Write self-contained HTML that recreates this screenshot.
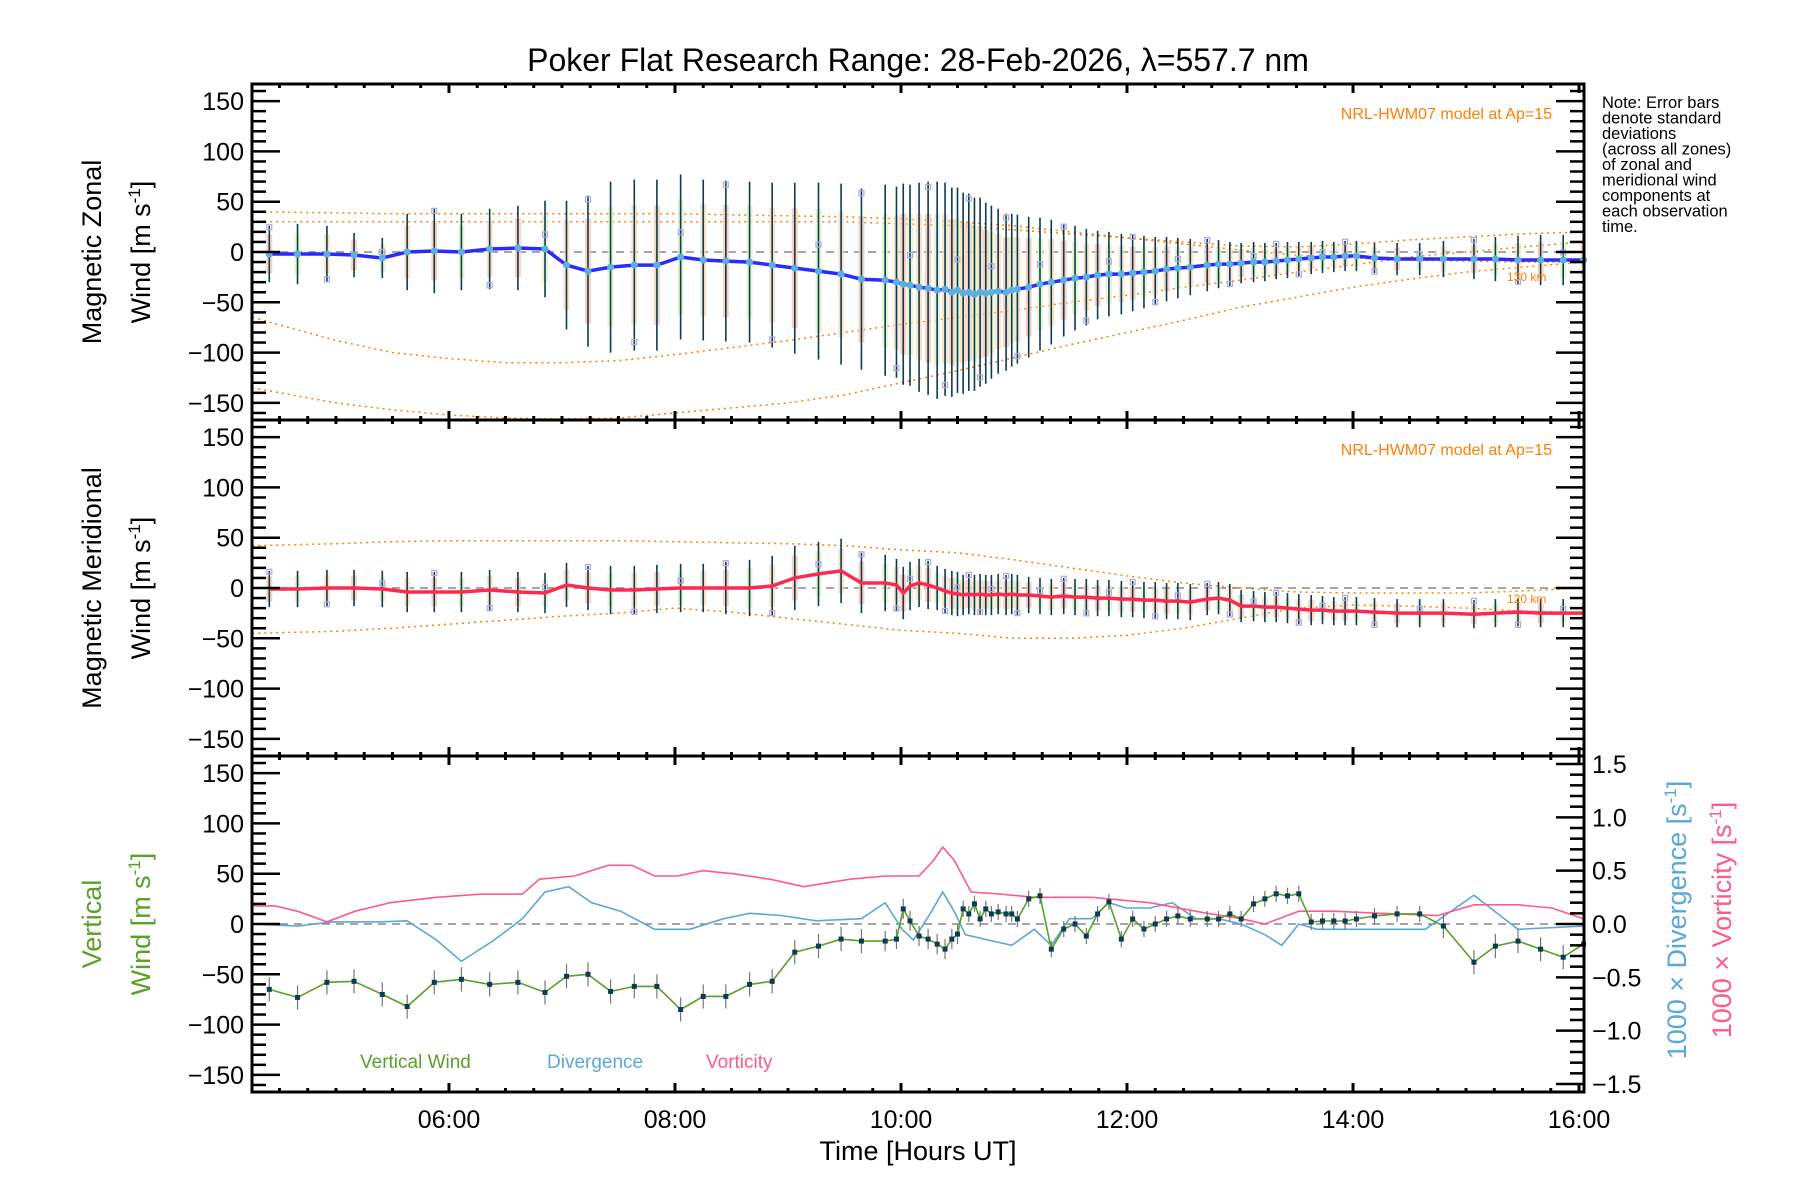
<!DOCTYPE html>
<html><head><meta charset="utf-8"><style>
html,body{margin:0;padding:0;background:#fff;}
svg{display:block;font-family:"Liberation Sans",sans-serif;}
</style></head><body>
<svg id="chart" width="1800" height="1200" viewBox="0 0 1800 1200">
<text x="918" y="71" font-size="32" text-anchor="middle">Poker Flat Research Range: 28-Feb-2026, λ=557.7 nm</text>
<g font-size="16.5">
<text x="1602" y="108">Note: Error bars</text><text x="1602" y="123.5">denote standard</text><text x="1602" y="139">deviations</text><text x="1602" y="154.5">(across all zones)</text><text x="1602" y="170">of zonal and</text><text x="1602" y="185.5">meridional wind</text><text x="1602" y="201">components at</text><text x="1602" y="216.5">each observation</text><text x="1602" y="232">time.</text>
</g>
<g id="layer"></g>
</svg>
<script>
const obsTimes=[4.41,4.66,4.92,5.16,5.41,5.63,5.87,6.11,6.36,6.61,6.85,7.04,7.23,7.43,7.64,7.84,8.05,8.25,8.45,8.66,8.86,9.06,9.27,9.47,9.65,9.86,9.96,10.02,10.08,10.16,10.24,10.32,10.39,10.45,10.50,10.55,10.60,10.65,10.70,10.75,10.80,10.86,10.93,10.98,11.03,11.13,11.23,11.33,11.44,11.54,11.64,11.74,11.84,11.95,12.05,12.15,12.25,12.35,12.45,12.56,12.71,12.81,12.91,13.01,13.12,13.22,13.32,13.42,13.52,13.63,13.73,13.83,13.93,14.03,14.19,14.39,14.59,14.80,15.07,15.26,15.46,15.66,15.86,16.04];
const zonal=[-2,-2,-2,-3,-6,0,1,0,3,4,3,-13,-19,-15,-13,-13,-5,-8,-9,-10,-13,-16,-19,-22,-27,-28,-30,-32,-33,-35,-36,-38,-37,-40,-38,-41,-40,-42,-40,-41,-40,-39,-40,-38,-37,-35,-32,-30,-28,-26,-25,-23,-22,-22,-21,-20,-19,-17,-16,-15,-13,-12,-12,-11,-10,-10,-9,-8,-7,-6,-5,-5,-4,-4,-6,-7,-7,-7,-7,-7,-8,-8,-8,-8];
const zonalSd=[28,30,28,22,20,38,42,38,40,42,48,64,75,85,85,85,82,80,80,80,82,85,88,90,90,95,95,100,100,104,106,108,106,104,102,100,98,96,94,90,86,82,78,76,74,70,66,62,56,52,48,44,42,40,38,36,34,32,30,28,26,24,22,20,20,19,18,18,17,16,16,15,15,15,15,16,16,18,20,22,24,25,25,25];
const merid=[-1,-1,0,0,-1,-4,-4,-4,-2,-4,-5,3,0,-2,-2,-1,0,0,0,0,2,10,14,17,5,5,3,-5,2,5,3,0,-3,-5,-6,-7,-6,-7,-6,-7,-7,-6,-7,-6,-7,-7,-8,-9,-8,-9,-9,-10,-10,-11,-11,-12,-12,-13,-13,-14,-11,-10,-12,-18,-18,-19,-19,-20,-21,-22,-22,-23,-23,-23,-24,-25,-25,-25,-26,-25,-24,-25,-25,-25];
const meridSd=[18,18,18,18,18,20,20,20,20,20,20,22,22,24,24,24,24,24,26,28,30,32,32,32,30,28,26,26,24,24,24,22,22,22,22,20,20,20,20,20,20,20,20,20,20,18,18,18,18,18,18,18,18,18,18,18,18,18,18,18,16,16,16,16,15,15,15,15,15,15,14,14,14,14,14,14,14,14,14,14,14,14,14,14];
const vTimes=obsTimes;
const vWind=[-65,-73,-58,-57,-70,-82,-58,-55,-60,-58,-68,-52,-50,-67,-62,-62,-85,-72,-72,-60,-57,-28,-22,-15,-17,-17,-15,15,3,-12,-15,-20,-25,-15,-10,15,10,20,5,15,10,12,10,10,5,25,28,-25,-5,0,-12,10,22,-15,5,-5,0,5,8,5,5,5,10,5,20,25,30,28,30,2,3,3,3,5,8,10,10,-2,-38,-22,-17,-25,-33,-20];
const vErr=[12,12,12,12,12,12,12,12,12,12,12,12,12,12,12,12,12,12,12,12,12,12,12,12,12,10,10,10,10,10,10,10,10,10,10,8,8,8,8,8,8,8,8,8,8,8,8,8,8,8,8,8,8,8,8,8,8,8,8,8,8,8,8,8,8,8,8,8,8,8,8,8,8,8,8,8,8,12,12,12,12,12,12,12];
const divTimes=[4.26,4.66,4.97,5.38,5.63,5.89,6.11,6.40,6.65,6.85,7.06,7.26,7.52,7.82,8.13,8.43,8.66,8.94,9.25,9.65,9.86,10.01,10.11,10.26,10.37,10.47,10.57,10.77,10.98,11.18,11.33,11.49,11.69,11.84,11.99,12.20,12.40,12.61,12.81,13.01,13.22,13.37,13.52,13.68,13.83,14.24,14.64,15.07,15.46,16.04];
const divergence=[0.0,-0.02,0.02,0.02,0.03,-0.15,-0.35,-0.15,0.05,0.3,0.35,0.2,0.12,-0.05,-0.05,0.05,0.1,0.08,0.03,0.05,0.2,-0.05,-0.15,0.1,0.3,0.12,-0.1,-0.15,-0.2,-0.05,-0.2,0.05,0.05,0.2,0.15,0.15,0.2,0.05,0.05,0.0,-0.1,-0.2,0.0,-0.05,-0.05,-0.05,-0.05,0.27,-0.05,-0.02];
const vortTimes=[4.26,4.46,4.66,4.92,5.17,5.48,5.89,6.29,6.65,6.80,7.11,7.41,7.62,7.82,8.02,8.25,8.53,8.84,9.14,9.55,9.86,10.16,10.29,10.37,10.47,10.62,10.88,11.18,11.69,12.20,12.71,13.01,13.22,13.52,13.83,14.24,14.75,15.07,15.46,15.76,16.04];
const vorticity=[0.17,0.17,0.12,0.02,0.12,0.2,0.25,0.28,0.28,0.42,0.45,0.55,0.55,0.45,0.45,0.5,0.47,0.42,0.35,0.42,0.45,0.45,0.6,0.72,0.6,0.3,0.28,0.25,0.25,0.2,0.1,0.05,0.0,0.12,0.12,0.1,0.08,0.18,0.18,0.15,0.05];
const modelTimes=[4.26,5.0,5.5,6.0,6.5,7.0,7.5,8.0,8.5,9.0,9.5,10.0,10.5,11.0,11.5,12.0,12.5,13.0,13.5,14.0,14.5,15.0,15.5,16.04];
const zModelA=[40,39,38,38,38,38,38,38,37,36,35,33,30,26,20,14,8,2,-3,-6,-8,-9,-10,-10];
const zModelB=[-65,-88,-100,-106,-110,-110,-108,-102,-95,-88,-80,-72,-65,-58,-50,-43,-35,-28,-20,-13,-5,0,5,10];
const zModelC=[-135,-150,-157,-162,-165,-166,-165,-160,-155,-150,-142,-130,-118,-105,-92,-80,-68,-55,-45,-35,-27,-20,-15,-10];
const zModelD=[30,30,30,30,30,30,30,30,30,30,30,28,26,22,18,14,10,6,5,8,12,15,18,20];
const mModelA=[42,44,46,47,47,47,47,46,45,44,42,38,35,28,20,12,5,0,-4,-5,-5,-5,-3,0];
const mModelB=[-45,-43,-40,-36,-32,-28,-25,-20,-24,-30,-36,-42,-45,-50,-50,-47,-40,-30,-20,-17,-18,-20,-23,-25];
const xTickLabels=["06:00","08:00","10:00","12:00","14:00","16:00"];
const xTickHours=[6,8,10,12,14,16];
const yTickVals=[-150,-100,-50,0,50,100,150];
const rTickVals=[-1.5,-1.0,-0.5,0.0,0.5,1.0,1.5];
const rTickLabels=["\u22121.5","\u22121.0","\u22120.5","0.0","0.5","1.0","1.5"];

const NS='http://www.w3.org/2000/svg';
const layer=document.getElementById('layer');
const X0=252,X1=1584,T0=4.257,T1=16.044;
const panels=[{top:84},{top:420},{top:756}];
const PH=336,YR=167,RR=1.575;
function xs(t){return X0+(t-T0)/(T1-T0)*(X1-X0);}
function ys(p,v){return panels[p].top+PH/2-v/YR*(PH/2);}
function yr(v){return panels[2].top+PH/2-v/RR*(PH/2);}
function mk(tag,attrs,parent){const e=document.createElementNS(NS,tag);for(const k in attrs)e.setAttribute(k,attrs[k]);(parent||layer).appendChild(e);return e;}
function clip(v){return Math.max(-YR,Math.min(YR,v));}

const defs=mk('defs',{});
panels.forEach((p,i)=>{const c=mk('clipPath',{id:'cp'+i},defs);mk('rect',{x:X0,y:p.top,width:X1-X0,height:PH},c);});

function polyline(pts,attrs,name,cp){const e=mk('polyline',Object.assign({points:pts.map(q=>q[0].toFixed(1)+','+q[1].toFixed(1)).join(' '),fill:'none','clip-path':'url(#cp'+cp+')'},attrs));

return e;}

panels.forEach((p,i)=>{const l=mk('line',{x1:X0,x2:X1,y1:ys(i,0),y2:ys(i,0),stroke:'#888','stroke-width':1.5,'stroke-dasharray':'8,6'});

});

[[0,zModelA],[0,zModelB],[0,zModelC],[0,zModelD],[1,mModelA],[1,mModelB]].forEach(([p,arr])=>{
 polyline(modelTimes.map((t,i)=>[xs(t),ys(p,arr[i])]),{stroke:'#ff7f00','stroke-width':1.5,'stroke-dasharray':'2,4'},'model-curve',p);
});

const sqFrac=[0.95,0.6,-0.9,0.8,0.3,-0.7];
[[0,zonal,zonalSd],[1,merid,meridSd]].forEach(([p,vals,sd])=>{
 const g=mk('g',{'clip-path':'url(#cp'+p+')'});
 
 
 obsTimes.forEach((t,i)=>{
  const x=xs(t),v=vals[i],s=sd[i];
  const bg=mk('rect',{x:x-3,y:ys(p,v+s*0.7),width:6,height:ys(p,v-s*0.7)-ys(p,v+s*0.7),fill:(i%3==0?'#f6c9b8':i%3==1?'#e0f2c8':'#f8ddc0'),opacity:0.8},g);
  
  
  const b=mk('line',{x1:x,x2:x,y1:ys(p,clip(v+s)),y2:ys(p,clip(v-s)),stroke:'#0d3b4f','stroke-width':1.6},g);
  
  
  if(i%2==0){
  const sq=mk('rect',{x:x-2.5,y:ys(p,v+s*sqFrac[i%6])-2.5,width:5,height:5,fill:'none',stroke:'#b0a8e0','stroke-width':1.2},g);
  
  }
 });
});
polyline(obsTimes.map((t,i)=>[xs(t),ys(0,zonal[i])]),{stroke:'#2a2aff','stroke-width':3.5},'zonal-wind-line',0);
polyline(obsTimes.map((t,i)=>[xs(t),ys(1,merid[i])]),{stroke:'#ff2850','stroke-width':3.5},'meridional-wind-line',1);
obsTimes.forEach((t,i)=>{const c=mk('circle',{cx:xs(t),cy:ys(0,zonal[i]),r:3.5,fill:'#5ab0e0'});

});

polyline(divTimes.map((t,i)=>[xs(t),yr(divergence[i])]),{stroke:'#5aa8d8','stroke-width':1.6},'divergence-line',2);
polyline(vortTimes.map((t,i)=>[xs(t),yr(vorticity[i])]),{stroke:'#ff5a8c','stroke-width':1.6},'vorticity-line',2);
vTimes.forEach((t,i)=>{const l=mk('line',{x1:xs(t),x2:xs(t),y1:ys(2,vWind[i]+vErr[i]),y2:ys(2,vWind[i]-vErr[i]),stroke:'#777','stroke-width':1.2});

});
polyline(vTimes.map((t,i)=>[xs(t),ys(2,vWind[i])]),{stroke:'#5aa02a','stroke-width':1.6},'vertical-wind-line',2);
vTimes.forEach((t,i)=>{const r=mk('rect',{x:xs(t)-2.5,y:ys(2,vWind[i])-2.5,width:5,height:5,fill:'#0d3b4f'});

});

panels.forEach((p,pi)=>{
 const f=mk('rect',{x:X0,y:p.top,width:X1-X0,height:PH,fill:'none',stroke:'#000','stroke-width':3});
 
 
 for(let v=-160;v<=160;v+=10){const y=ys(pi,v);const maj=v%50==0;
  mk('line',{x1:X0,x2:X0+(maj?28:14),y1:y,y2:y,stroke:'#000','stroke-width':2.5});
  if(pi<2) mk('line',{x1:X1,x2:X1-(maj?28:14),y1:y,y2:y,stroke:'#000','stroke-width':2.5});}
 yTickVals.forEach(v=>{const t=mk('text',{x:X0-8,y:ys(pi,v)+9,'font-size':25,'text-anchor':'end'});t.textContent=(v<0?'\u2212':'')+Math.abs(v);
 
 });
 for(let h=4.5;h<=16;h+=0.25){const x=xs(h);const maj=Math.abs(h%2)<1e-6;
  mk('line',{x1:x,x2:x,y1:p.top,y2:p.top+(maj?9:4),stroke:'#000','stroke-width':3});
  mk('line',{x1:x,x2:x,y1:p.top+PH,y2:p.top+PH-(maj?9:4),stroke:'#000','stroke-width':3});}
});
for(let v=-1.5;v<=1.55;v+=0.1){const y=yr(v);const maj=Math.abs(Math.round(v*10)%5)==0;
 mk('line',{x1:X1,x2:X1-(maj?28:14),y1:y,y2:y,stroke:'#000','stroke-width':2.5});}
rTickVals.forEach((v,i)=>{const t=mk('text',{x:X1+8,y:yr(v)+9,'font-size':25});t.textContent=rTickLabels[i];

});
xTickHours.forEach((h,i)=>{const t=mk('text',{x:xs(h),y:1128,'font-size':25,'text-anchor':'middle'});t.textContent=xTickLabels[i];

});
</script>
<div style="position:absolute;left:0;top:0;width:1800px;height:1200px;pointer-events:none">
<svg width="1800" height="1200" style="font-family:'Liberation Sans',sans-serif">
<text x="918" y="1160" font-size="27" text-anchor="middle">Time [Hours UT]</text>
<text x="1552" y="119" font-size="16" fill="#ff7f00" text-anchor="end">NRL-HWM07 model at Ap=15</text>
<text x="1552" y="455" font-size="16" fill="#ff7f00" text-anchor="end">NRL-HWM07 model at Ap=15</text>
<text x="1507" y="281" font-size="12" fill="#ff7f00">130 km</text>
<text x="1507" y="603" font-size="12" fill="#ff7f00">120 km</text>
<text x="360" y="1068" font-size="19" fill="#5aa02a">Vertical Wind</text>
<text x="547" y="1068" font-size="19" fill="#5aa8d8">Divergence</text>
<text x="706" y="1068" font-size="19" fill="#ff5a8c">Vorticity</text>
<g font-size="27" text-anchor="middle">
<text transform="translate(101,252) rotate(-90)">Magnetic Zonal</text>
<text transform="translate(150,252) rotate(-90)">Wind [m s<tspan font-size="17" dy="-10">-1</tspan><tspan dy="10">]</tspan></text>
<text transform="translate(101,588) rotate(-90)">Magnetic Meridional</text>
<text transform="translate(150,588) rotate(-90)">Wind [m s<tspan font-size="17" dy="-10">-1</tspan><tspan dy="10">]</tspan></text>
<text transform="translate(101,924) rotate(-90)" fill="#5aa02a">Vertical</text>
<text transform="translate(150,924) rotate(-90)" fill="#5aa02a">Wind [m s<tspan font-size="17" dy="-10">-1</tspan><tspan dy="10">]</tspan></text>
<text transform="translate(1686,920) rotate(-90)" fill="#5aa8d8">1000 × Divergence [s<tspan font-size="17" dy="-10">-1</tspan><tspan dy="10">]</tspan></text>
<text transform="translate(1731,920) rotate(-90)" fill="#ff5a8c">1000 × Vorticity [s<tspan font-size="17" dy="-10">-1</tspan><tspan dy="10">]</tspan></text>
</g>
</svg></div>
</body></html>
